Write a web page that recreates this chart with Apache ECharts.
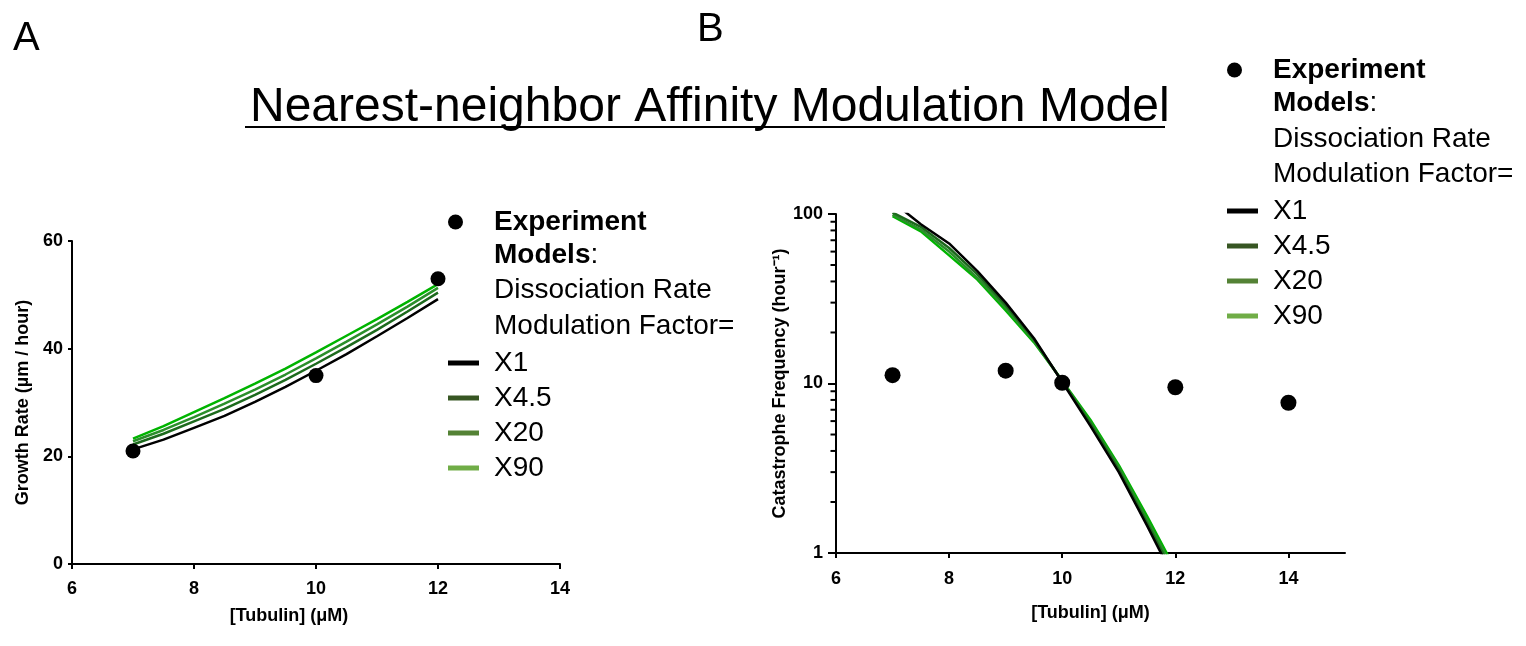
<!DOCTYPE html>
<html><head><meta charset="utf-8">
<script src="https://cdn.jsdelivr.net/npm/echarts@6/dist/echarts.min.js"></script>
<style>html,body{margin:0;padding:0;background:#fff}#c{width:1526px;height:646px}</style>
</head><body><div id="c"></div>
<script>
const FONT = '"Liberation Sans", Arial, Helvetica, sans-serif';

// ---------- Panel A: growth rate ----------
const expConcA = [7, 10, 12];
const expGrowth = [21, 35, 53];
const modelConcA = [7, 7.5, 8, 8.5, 9, 9.5, 10, 10.5, 11, 11.5, 12];
const growthX1   = [21.3, 23.1, 25.3, 27.5, 30.1, 32.9, 35.9, 39.0, 42.3, 45.7, 49.2];
const growthX4_5 = [22.2, 24.2, 26.5, 28.8, 31.4, 34.2, 37.2, 40.3, 43.5, 46.9, 50.4];
const growthX20  = [22.8, 24.9, 27.3, 29.8, 32.4, 35.2, 38.2, 41.3, 44.5, 47.8, 51.3];
const growthX90  = [23.3, 25.6, 28.2, 30.8, 33.5, 36.3, 39.3, 42.4, 45.5, 48.7, 52.0];
const xTicksA = [6, 8, 10, 12, 14];
const yTicksA = [0, 20, 40, 60];

// ---------- Panel B: catastrophe frequency ----------
const expConcB = [7, 9, 10, 12, 14];
const expCatFreq = [11.2, 11.9, 10.1, 9.5, 7.7];
const modelConcB = [7, 7.5, 8, 8.5, 9, 9.5, 10, 10.5, 11, 11.5, 12];
const catX1   = [118, 87, 67, 46, 30, 18.5, 10.2, 5.6, 3.0, 1.45, 0.68];
const catX4_5 = [102, 84, 63, 44, 29, 18.2, 10.3, 5.8, 3.1, 1.5, 0.72];
const catX20  = [99, 81, 60, 42, 28, 17.8, 10.3, 5.9, 3.2, 1.57, 0.76];
const catX90  = [97, 79, 57, 41, 27, 17.5, 10.4, 6.1, 3.3, 1.65, 0.8];
const xTicksB = [6, 8, 10, 12, 14];
const yTicksB = [1, 10, 100];
const yMinorTicksB = [2, 3, 4, 5, 6, 7, 8, 9, 20, 30, 40, 50, 60, 70, 80, 90];

const modelNames = ['X1', 'X4.5', 'X20', 'X90'];
const lineColors = ['#000000', '#1d6a1d', '#2b8f2b', '#00b400'];
const legendColors = ['#000000', '#375623', '#548235', '#70ad47'];
const expName = 'Experiment';

const growthSets = [growthX1, growthX4_5, growthX20, growthX90];
const catSets = [catX1, catX4_5, catX20, catX90];
const zip = (xs, ys) => xs.map((x, i) => [x, ys[i]]);

const axisLine = { show: true, lineStyle: { color: '#000', width: 2 } };
const tickLabel = { color: '#000', fontFamily: FONT, fontWeight: 'bold', fontSize: 18 };
const nameStyle = { color: '#000', fontFamily: FONT, fontWeight: 'bold', fontSize: 18 };

const series = [];
for (let i = 3; i >= 0; i--) {
  series.push({
    type: 'line', name: modelNames[i], xAxisIndex: 0, yAxisIndex: 0,
    data: zip(modelConcA, growthSets[i]), showSymbol: false, symbol: 'none',
    lineStyle: { color: lineColors[i], width: 2.5 }, itemStyle: { color: lineColors[i] },
    z: 2
  });
}
series.push({
  type: 'scatter', name: expName, xAxisIndex: 0, yAxisIndex: 0,
  data: zip(expConcA, expGrowth), symbol: 'circle', symbolSize: 15,
  itemStyle: { color: '#000', opacity: 1 }, z: 5
});
for (let i = 3; i >= 0; i--) {
  series.push({
    type: 'line', name: modelNames[i], xAxisIndex: 1, yAxisIndex: 1,
    data: zip(modelConcB, catSets[i]), showSymbol: false, symbol: 'none', clip: true,
    lineStyle: { color: lineColors[i], width: 2.5 }, itemStyle: { color: lineColors[i] },
    z: 2
  });
}
series.push({
  type: 'scatter', name: expName, xAxisIndex: 1, yAxisIndex: 1,
  data: zip(expConcB, expCatFreq), symbol: 'circle', symbolSize: 16,
  itemStyle: { color: '#000', opacity: 1 }, z: 5
});
// minor log ticks on the y axis of panel B (placed through the axis scale)
series.push({
  type: 'scatter', name: 'minor ticks', xAxisIndex: 1, yAxisIndex: 1, silent: true, clip: false,
  data: yMinorTicksB.map(v => [xTicksB[0], v]), symbol: 'rect', symbolSize: [5, 2],
  symbolOffset: [-3, 0], itemStyle: { color: '#000', opacity: 1 }, z: 6
});

const legendText = { color: '#000', fontFamily: FONT, fontSize: 28, lineHeight: 28 };
function makeLegends(left, expTop, modelTop) {
  return [
    {
      left: left, top: expTop, orient: 'vertical', itemWidth: 31, itemHeight: 15,
      icon: 'circle', selectedMode: false,
      textStyle: Object.assign({}, legendText, { fontWeight: 'bold', padding: [0, 0, 0, 18] }),
      data: [{ name: expName, itemStyle: { color: '#000', opacity: 1 } }]
    },
    {
      left: left, top: modelTop, orient: 'vertical', itemWidth: 31, itemHeight: 5,
      itemGap: 7, icon: 'rect', selectedMode: false,
      textStyle: Object.assign({}, legendText, { padding: [0, 0, 0, 10] }),
      data: modelNames.map((n, i) => ({ name: n, itemStyle: { color: legendColors[i] } }))
    }
  ];
}

function legendLines(x, y0) {
  const rows = [
    { text: '{b|Models}:', y: y0 },
    { text: 'Dissociation Rate', y: y0 + 35.5 },
    { text: 'Modulation Factor=', y: y0 + 71 }
  ];
  return rows.map(r => ({
    type: 'text', left: x, top: r.y - 14, silent: true,
    style: {
      text: r.text, fill: '#000', font: '28px ' + FONT,
      rich: { b: { fontWeight: 'bold', fontSize: 28, fontFamily: FONT, fill: '#000' } }
    }
  }));
}

const option = {
  animation: false,
  backgroundColor: '#fff',
  title: [
    { text: 'Nearest-neighbor Affinity Modulation Model', left: 245, top: 79,
      textStyle: { fontFamily: FONT, fontSize: 48, fontWeight: 'normal', color: '#000' } },
    { text: 'A', left: 8, top: 14, textStyle: { fontFamily: FONT, fontSize: 40, fontWeight: 'normal', color: '#000' } },
    { text: 'B', left: 692, top: 5, textStyle: { fontFamily: FONT, fontSize: 40, fontWeight: 'normal', color: '#000' } }
  ],
  legend: makeLegends(443, 203, 344).concat(makeLegends(1222, 51, 192)),
  grid: [
    { left: 72, top: 241, width: 488, height: 323 },
    { left: 836, top: 214, width: 509, height: 339 }
  ],
  xAxis: [
    { type: 'value', gridIndex: 0, min: 6, max: 14, interval: 2,
      name: '[Tubulin] (μM)', nameLocation: 'middle', nameGap: 43,
      nameTextStyle: Object.assign({}, nameStyle, { padding: [0, 54, 0, 0] }),
      axisLine: axisLine, axisTick: { show: true, length: 5, lineStyle: { color: '#000', width: 2 }, customValues: xTicksA },
      axisLabel: Object.assign({ margin: 16, customValues: xTicksA }, tickLabel), splitLine: { show: false } },
    { type: 'value', gridIndex: 1, min: 6, max: 15,
      name: '[Tubulin] (μM)', nameLocation: 'middle', nameGap: 51, nameTextStyle: nameStyle,
      axisLine: axisLine, axisTick: { show: true, length: 5, lineStyle: { color: '#000', width: 2 }, customValues: xTicksB },
      axisLabel: Object.assign({ margin: 17, customValues: xTicksB }, tickLabel), splitLine: { show: false } }
  ],
  yAxis: [
    { type: 'value', gridIndex: 0, min: 0, max: 60, interval: 20,
      name: 'Growth Rate (µm / hour)', nameLocation: 'middle', nameGap: 40, nameTextStyle: nameStyle,
      axisLine: axisLine, axisTick: { show: true, length: 4, lineStyle: { color: '#000', width: 2 }, customValues: yTicksA },
      axisLabel: Object.assign({ margin: 9, customValues: yTicksA }, tickLabel), splitLine: { show: false } },
    { type: 'log', logBase: 10, gridIndex: 1, min: 1, max: 100,
      name: 'Catastrophe Frequency (hour⁻¹)', nameLocation: 'middle', nameGap: 34, nameTextStyle: nameStyle,
      axisLine: axisLine, axisTick: { show: true, length: 8, lineStyle: { color: '#000', width: 2 } },
      axisLabel: Object.assign({ margin: 13 }, tickLabel), splitLine: { show: false }, minorTick: { show: false } }
  ],
  graphic: [
    { type: 'line', silent: true, shape: { x1: 245, y1: 127, x2: 1165, y2: 127 }, style: { stroke: '#000', lineWidth: 2 } }
  ].concat(legendLines(494, 255)).concat(legendLines(1273, 103.5)),
  series: series
};

const chart = echarts.init(document.getElementById('c'), null, { renderer: 'canvas' });
chart.setOption(option);
</script>
</body></html>
